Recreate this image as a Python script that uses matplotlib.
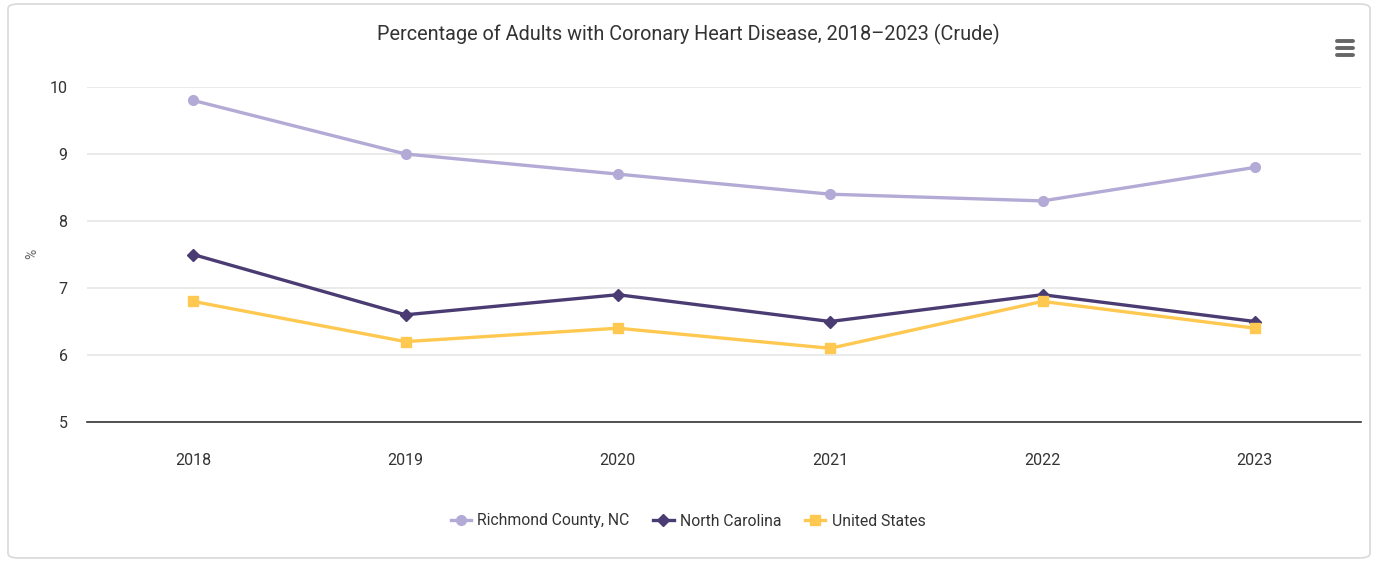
import matplotlib.pyplot as plt
from matplotlib.patches import FancyBboxPatch
from matplotlib.lines import Line2D

years = ["2018", "2019", "2020", "2021", "2022", "2023"]
richmond = [9.8, 9.0, 8.7, 8.4, 8.3, 8.8]
north_carolina = [7.5, 6.6, 6.9, 6.5, 6.9, 6.5]
united_states = [6.8, 6.2, 6.4, 6.1, 6.8, 6.4]

plt.rcParams["font.family"] = ["Liberation Sans Narrow", "Roboto", "DejaVu Sans"]

fig = plt.figure(figsize=(13.76, 5.64), dpi=100)

# outer rounded frame
frame = FancyBboxPatch((8 / 1376, 6 / 564), 1362 / 1376, 554 / 564,
                       boxstyle="round,pad=0,rounding_size=0.008",
                       transform=fig.transFigure, facecolor="none",
                       edgecolor="#d9d9d9", linewidth=1.2, zorder=-1)
fig.patches.append(frame)

ax = fig.add_axes([87 / 1376, 1 - 422 / 564, 1274 / 1376, 335 / 564])
ax.set_facecolor("none")

x = range(len(years))
ax.plot(x, richmond, color="#b3aad6", lw=2.4, marker="o", ms=7,
        label="Richmond County, NC", zorder=3)
ax.plot(x, north_carolina, color="#4a3c72", lw=2.4, marker="D", ms=6,
        label="North Carolina", zorder=3)
ax.plot(x, united_states, color="#ffc850", lw=2.4, marker="s", ms=7,
        label="United States", zorder=3)

ax.set_xlim(-0.5, 5.5)
ax.set_ylim(5, 10)
ax.set_yticks([5, 6, 7, 8, 9, 10])
ax.set_xticks(list(x))
ax.set_xticklabels(years)
ax.grid(axis="y", color="#e6e6e6", lw=1.2)
ax.set_axisbelow(True)
for s in ["top", "right", "left"]:
    ax.spines[s].set_visible(False)
ax.spines["bottom"].set_color("#333333")
ax.spines["bottom"].set_linewidth(1.2)
ax.tick_params(axis="both", length=0, labelsize=11.5, colors="#333333")
ax.tick_params(axis="x", pad=22)
ax.tick_params(axis="y", pad=14)

fig.text(32 / 1376, 1 - 254 / 564, "%", rotation=90, ha="center", va="center",
         fontsize=10, color="#666666")

fig.text(0.5, 1 - 34 / 564, "Percentage of Adults with Coronary Heart Disease, 2018\u20132023 (Crude)",
         ha="center", va="center", fontsize=14.3, color="#333333")

# menu icon
for dy in (41, 48, 55):
    fig.add_artist(Line2D([1337 / 1376, 1353 / 1376], [1 - dy / 564, 1 - dy / 564],
                          color="#666666", lw=2.8, solid_capstyle="round"))

handles, labels = ax.get_legend_handles_labels()
fig.legend(handles, labels, loc="center", bbox_to_anchor=(0.5, 1 - 521 / 564), ncol=3,
           frameon=False, fontsize=11.3, labelcolor="#333333", handlelength=1.3,
           handletextpad=0.4, columnspacing=1.5)

fig.savefig("out.png", dpi=100)
